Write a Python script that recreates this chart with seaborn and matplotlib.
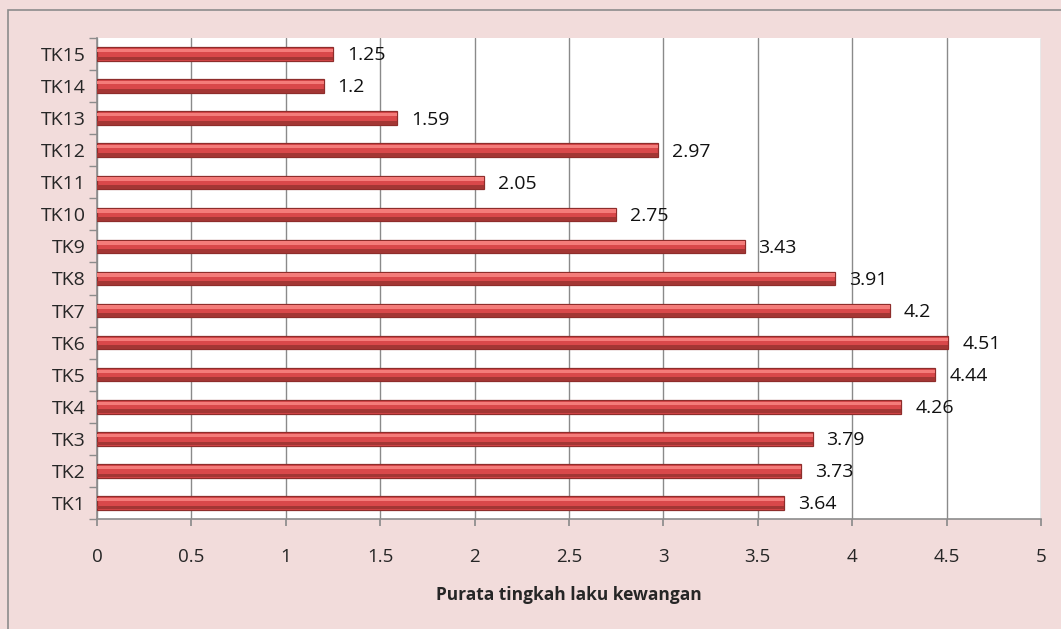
import matplotlib
matplotlib.use('Agg')
import matplotlib.pyplot as plt
from matplotlib.patches import Rectangle
import seaborn as sns
import pandas as pd

# data
items = ['TK15', 'TK14', 'TK13', 'TK12', 'TK11', 'TK10', 'TK9', 'TK8',
         'TK7', 'TK6', 'TK5', 'TK4', 'TK3', 'TK2', 'TK1']
means = [1.25, 1.2, 1.59, 2.97, 2.05, 2.75, 3.43, 3.91,
         4.2, 4.51, 4.44, 4.26, 3.79, 3.73, 3.64]
xticks = [0, 0.5, 1, 1.5, 2, 2.5, 3, 3.5, 4, 4.5, 5]
xtick_labels = ['0', '0.5', '1', '1.5', '2', '2.5', '3', '3.5', '4', '4.5', '5']

df = pd.DataFrame({'item': items, 'mean': means})

sns.set_theme(style='white')
plt.rcParams['font.family'] = ['Open Sans', 'DejaVu Sans']

bg = '#f2dcdb'
fig = plt.figure(figsize=(10.61, 6.29), dpi=100, facecolor=bg)
# outer chart border (left and top only are visible)
fig.patches.append(Rectangle((8 / 1061, -0.1), 1.2, 1.1 - 10 / 629, transform=fig.transFigure,
                             fill=False, edgecolor='#8c8c8c', lw=1.2))
ax = fig.add_axes([97 / 1061, 110 / 629, 944 / 1061, 481 / 629])
ax.set_facecolor('white')

sns.barplot(data=df, x='mean', y='item', orient='h', color='#d9484a', width=0.42,
            edgecolor='#8e2d2b', linewidth=0.9, saturation=1, ax=ax, zorder=3)

# shine on bars
for p in list(ax.patches):
    y0, h, w = p.get_y(), p.get_height(), p.get_width()
    ax.add_patch(Rectangle((0, y0 + h * 0.12), w, h * 0.25, facecolor='#f47c7a',
                           edgecolor='none', zorder=4))
    ax.add_patch(Rectangle((0, y0 + h * 0.70), w, h * 0.28, facecolor='#a33634',
                           edgecolor='none', zorder=4))

for p, v in zip(ax.patches[:len(means)], means):
    ax.annotate(f'{v:g}', xy=(p.get_width(), p.get_y() + p.get_height() / 2),
                xytext=(10, -1), textcoords='offset points', ha='left', va='center',
                fontsize=14, color='#111111', zorder=5)

ax.set_xlim(0, 5)
ax.set_ylim(len(items) - 0.5, -0.5)
ax.set_xticks(xticks)
ax.set_xticklabels(xtick_labels, fontsize=13.5)
ax.tick_params(axis='x', pad=16, length=5, direction='out', color='#8c8c8c', bottom=True)
ax.tick_params(axis='y', length=0, pad=8, labelsize=14)
ax.set_yticks([i - 0.5 for i in range(len(items) + 1)], minor=True)
ax.tick_params(axis='y', which='minor', length=6, color='#8c8c8c', left=True)
ax.xaxis.grid(True, color='#8a8a8a', lw=1.0, zorder=0)
ax.set_axisbelow(True)
for side in ['top', 'right']:
    ax.spines[side].set_visible(False)
for side in ['left', 'bottom']:
    ax.spines[side].set_color('#8c8c8c')
    ax.spines[side].set_linewidth(1.2)

ax.set_ylabel('')
ax.set_xlabel('Purata tingkah laku kewangan', fontsize=12.5, fontweight='bold',
              labelpad=14)

fig.savefig('out.png', dpi=100, facecolor=bg)
